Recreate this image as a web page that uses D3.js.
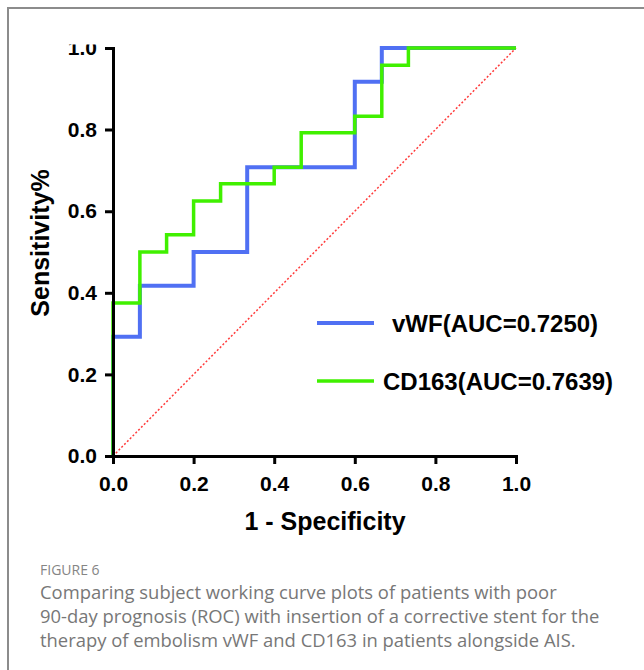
<!DOCTYPE html>
<html>
<head>
<meta charset="utf-8">
<script src="https://cdn.jsdelivr.net/npm/d3@7"></script>
<style>
  body { margin: 0; background: #fff; }
  svg { display: block; }
</style>
</head>
<body>
<div id="chart"></div>
<script>
// ROC points (1 - specificity, sensitivity)
const vwfFpr = [0, 0, 0.0667, 0.0667, 0.2, 0.2, 0.333, 0.333, 0.6, 0.6, 0.667, 0.667, 1];
const vwfTpr = [0, 0.292, 0.292, 0.417, 0.417, 0.5, 0.5, 0.708, 0.708, 0.917, 0.917, 1, 1];
const cdFpr = [0, 0, 0.0667, 0.0667, 0.133, 0.133, 0.2, 0.2, 0.267, 0.267, 0.4, 0.4,
               0.467, 0.467, 0.6, 0.6, 0.667, 0.667, 0.733, 0.733, 1];
const cdTpr = [0, 0.375, 0.375, 0.5, 0.5, 0.542, 0.542, 0.625, 0.625, 0.667, 0.667, 0.708,
               0.708, 0.792, 0.792, 0.833, 0.833, 0.958, 0.958, 1, 1];
const tickValues = [0, 0.2, 0.4, 0.6, 0.8, 1.0];
const legendLabels = ['vWF(AUC=0.7250)', 'CD163(AUC=0.7639)'];
const captionTitle = 'FIGURE 6';
const captionLines = [
  'Comparing subject working curve plots of patients with poor',
  '90-day prognosis (ROC) with insertion of a corrective stent for the',
  'therapy of embolism vWF and CD163 in patients alongside AIS.'
];

const width = 644, height = 670;
const svg = d3.select('#chart').append('svg')
    .attr('width', width)
    .attr('height', height);

// outer frame (runs off the right and bottom edge)
svg.append('rect')
    .attr('x', 8).attr('y', 8)
    .attr('width', 700).attr('height', 700)
    .attr('fill', 'none')
    .attr('stroke', '#8c8c8c')
    .attr('stroke-width', 2);

// the original picture is cut off just above the top of the axis
svg.append('clipPath').attr('id', 'cut')
    .append('rect').attr('x', 0).attr('y', 44.5).attr('width', width).attr('height', height);

const g = svg.append('g').attr('clip-path', 'url(#cut)');

const x = d3.scaleLinear().domain([0, 1]).range([113, 516]);
const y = d3.scaleLinear().domain([0, 1]).range([456, 48]);

// chance diagonal
g.append('line')
    .attr('x1', x(0)).attr('y1', y(0))
    .attr('x2', x(1)).attr('y2', y(1))
    .attr('stroke', '#ff3b3b')
    .attr('stroke-width', 1.5)
    .attr('stroke-dasharray', '2,2');

let line = d3.line().x(d => x(d[0])).y(d => y(d[1]));

g.append('path')
    .attr('d', line(vwfFpr.map((f, i) => [f, vwfTpr[i]])))
    .attr('fill', 'none')
    .attr('stroke', '#5070f3')
    .attr('stroke-width', 4);

g.append('path')
    .attr('d', line(cdFpr.map((f, i) => [f, cdTpr[i]])))
    .attr('fill', 'none')
    .attr('stroke', '#40f000')
    .attr('stroke-width', 3.5);

// axes
let fmt = d3.format('.1f');
let xAxis = g.append('g')
    .attr('transform', 'translate(0,' + y(0) + ')')
    .call(d3.axisBottom(x).tickValues(tickValues).tickFormat(fmt)
        .tickSize(8).tickSizeOuter(0).tickPadding(12));
let yAxis = g.append('g')
    .attr('transform', 'translate(' + x(0) + ',0)')
    .call(d3.axisLeft(y).tickValues(tickValues).tickFormat(fmt)
        .tickSize(8).tickSizeOuter(0).tickPadding(8));

[xAxis, yAxis].forEach(function(a) {
  a.select('.domain').attr('stroke', '#000').attr('stroke-width', 3)
      .attr('stroke-linecap', 'square');
  a.selectAll('.tick line').attr('stroke', '#000').attr('stroke-width', 3);
  a.selectAll('.tick text')
      .attr('fill', '#000')
      .style('font-family', 'Liberation Sans, Arial, sans-serif')
      .style('font-weight', 'bold')
      .style('font-size', '21px');
});

// axis titles
svg.append('text')
    .attr('transform', 'translate(49,243) rotate(-90)')
    .attr('text-anchor', 'middle')
    .style('font-family', 'Liberation Sans, Arial, sans-serif')
    .style('font-weight', 'bold')
    .style('font-size', '25px')
    .text('Sensitivity%');

svg.append('text')
    .attr('x', 325).attr('y', 530)
    .attr('text-anchor', 'middle')
    .style('font-family', 'Liberation Sans, Arial, sans-serif')
    .style('font-weight', 'bold')
    .style('font-size', '25px')
    .text('1 - Specificity');

// legend
const legendColors = ['#5070f3', '#40f000'];
const legendY = [323, 381];
const legendTextX = [392, 383];
legendLabels.forEach(function(label, i) {
  svg.append('line')
      .attr('x1', 317).attr('x2', 374)
      .attr('y1', legendY[i]).attr('y2', legendY[i])
      .attr('stroke', legendColors[i])
      .attr('stroke-width', i === 0 ? 4 : 3.5);
  svg.append('text')
      .attr('x', legendTextX[i]).attr('y', legendY[i] + 9)
      .style('font-family', 'Liberation Sans, Arial, sans-serif')
      .style('font-weight', 'bold')
      .style('font-size', '24px')
      .text(label);
});

// caption
svg.append('text')
    .attr('x', 40).attr('y', 575)
    .attr('fill', '#858585')
    .style('font-family', 'Open Sans, sans-serif')
    .style('font-size', '14px')
    .text(captionTitle);

svg.selectAll('.caption')
    .data(captionLines)
    .enter().append('text')
    .attr('class', 'caption')
    .attr('x', 40)
    .attr('y', (d, i) => 599 + i * 24)
    .attr('fill', '#777')
    .style('font-family', 'Open Sans, sans-serif')
    .style('font-size', '18.4px')
    .text(d => d);
</script>
</body>
</html>
